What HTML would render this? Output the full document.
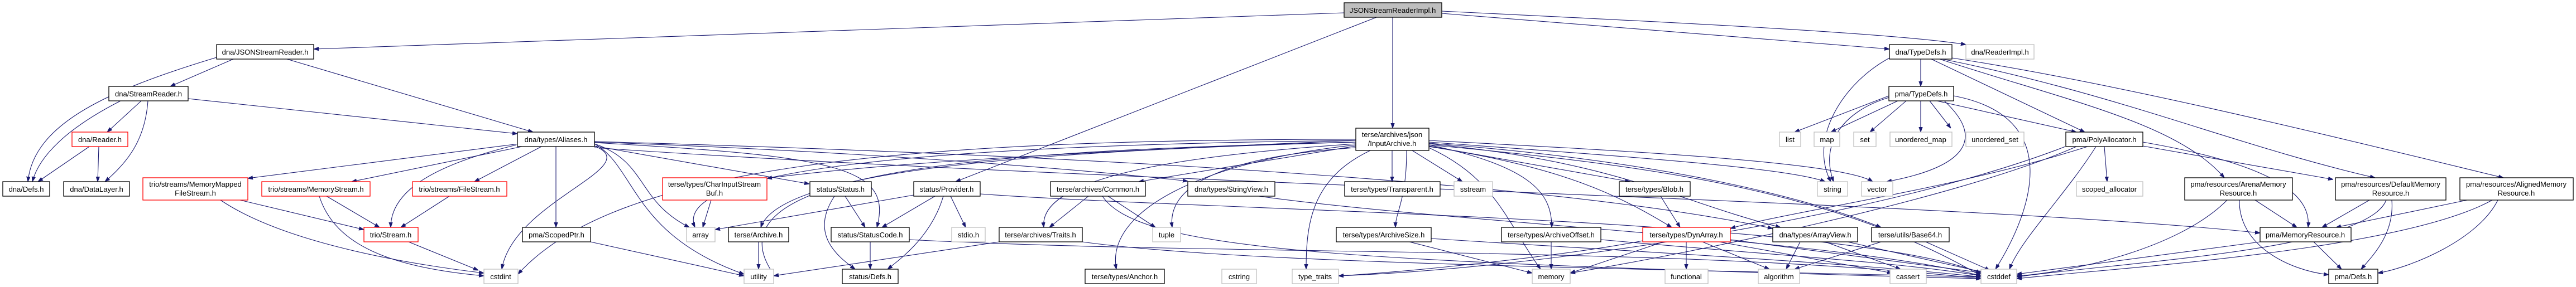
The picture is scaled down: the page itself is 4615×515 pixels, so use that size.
<!DOCTYPE html>
<html><head><meta charset="utf-8"><style>
html,body{margin:0;padding:0;background:#fff}
svg{display:block}
text{font-family:"Liberation Sans",sans-serif;font-size:13px;fill:#000;text-anchor:middle}
.b{fill:#fff;stroke:#000;stroke-width:1.3}
.g{fill:#fff;stroke:#bfbfbf;stroke-width:1.3}
.r{fill:#fff;stroke:#ff0000;stroke-width:1.3}
.e path{fill:none;stroke:#191970;stroke-width:1.1;marker-end:url(#a)}
</style></head><body>
<svg width="4615" height="515" viewBox="0 0 4615 515" xmlns="http://www.w3.org/2000/svg">
<defs><marker id="a" viewBox="0 0 10 10" refX="10" refY="5" markerWidth="9" markerHeight="9" markerUnits="userSpaceOnUse" orient="auto"><path d="M0,1.5L10,5L0,8.5z" fill="#191970" stroke="#191970"/></marker></defs>
<g class="e">
<path d="M2408,23 L562,88"/>
<path d="M2583,24 L3385,88"/>
<path d="M2583,20 C3000,40 3400,60 3522,80"/>
<path d="M2495,31 L2495,230"/>
<path d="M2466,31 L1712,326"/>
<path d="M388,103 C200,160 60,220 50,326"/>
<path d="M418,106 L305,155"/>
<path d="M514,106 L955,237"/>
<path d="M216,181 C120,230 70,280 58,326"/>
<path d="M253,181 L192,237"/>
<path d="M265,181 C260,250 230,290 188,326"/>
<path d="M337,177 L927,240"/>
<path d="M160,263 L68,326"/>
<path d="M177,263 L175,326"/>
<path d="M930,258 L444,320"/>
<path d="M940,262 L630,326"/>
<path d="M970,263 L850,326"/>
<path d="M925,260 C760,300 700,350 700,408"/>
<path d="M996,263 L996,408"/>
<path d="M1065,262 C1160,300 920,360 899,483"/>
<path d="M1065,262 L1450,330"/>
<path d="M1065,255 C1500,270 1900,300 2128,325"/>
<path d="M1065,256 C1500,280 1600,300 1571,408"/>
<path d="M1065,258 C1140,300 1130,420 1333,492"/>
<path d="M1065,258 C1160,290 1140,360 1235,408"/>
<path d="M1065,265 C2000,330 3500,360 4049,418"/>
<path d="M1065,254 C2000,280 2800,330 3176,410"/>
<path d="M430,359 L652,412"/>
<path d="M395,359 C500,430 700,470 867,490"/>
<path d="M585,352 L680,408"/>
<path d="M572,352 C600,440 700,480 867,495"/>
<path d="M805,352 L718,408"/>
<path d="M732,434 L857,485"/>
<path d="M1058,434 L1333,495"/>
<path d="M1274,359 L1259,408"/>
<path d="M1514,352 L1550,408"/>
<path d="M1495,352 C1450,420 1500,460 1532,483"/>
<path d="M1637,350 L1281,412"/>
<path d="M1675,352 L1580,408"/>
<path d="M1690,352 C1670,420 1620,460 1590,483"/>
<path d="M1703,352 L1730,408"/>
<path d="M1756,348 C2200,380 3300,390 3549,490"/>
<path d="M1950,352 L1880,408"/>
<path d="M1985,352 L2070,408"/>
<path d="M1975,352 C2040,450 2400,470 3549,500"/>
<path d="M2255,352 C2600,400 3300,430 3549,495"/>
<path d="M1359,434 L1359,483"/>
<path d="M1559,434 L1559,483"/>
<path d="M1629,430 C2200,460 3000,440 3549,500"/>
<path d="M1790,434 L1386,495"/>
<path d="M1939,434 C2200,470 2800,480 3549,497"/>
<path d="M2494,270 L2494,326"/>
<path d="M2530,270 L2620,326"/>
<path d="M2560,262 L2920,326"/>
<path d="M2560,255 C2900,280 3200,300 3270,326"/>
<path d="M2560,252 C2900,270 3300,290 3355,326"/>
<path d="M2455,270 C2350,320 2340,400 2340,483"/>
<path d="M2560,265 C2680,320 2700,400 2760,483"/>
<path d="M2520,270 C2520,360 2500,380 2500,408"/>
<path d="M2560,260 C2750,300 2780,350 2780,408"/>
<path d="M2560,263 C2800,300 2900,350 2995,408"/>
<path d="M2560,258 C2900,290 3000,360 3190,408"/>
<path d="M2560,257 C3000,290 3250,360 3370,408"/>
<path d="M2429,262 L2040,326"/>
<path d="M2429,258 C2100,280 1860,320 1870,408"/>
<path d="M2429,260 C2150,290 1980,380 2000,483"/>
<path d="M2429,255 C1800,270 1250,300 1386,492"/>
<path d="M2429,252 C1700,260 1200,300 1245,408"/>
<path d="M2429,252 C2000,270 1600,290 1374,320"/>
<path d="M2429,255 C1900,270 1400,300 1363,408"/>
<path d="M2429,250 C1600,250 1100,300 928,492"/>
<path d="M2560,260 C3000,300 3300,350 3549,495"/>
<path d="M2429,265 C2200,280 2090,330 2100,408"/>
<path d="M2975,352 L3010,408"/>
<path d="M2525,434 L2745,490"/>
<path d="M2564,428 C2900,450 3300,470 3549,497"/>
<path d="M2779,434 L2779,483"/>
<path d="M2868,430 C3200,460 3400,470 3549,495"/>
<path d="M2980,434 L2813,490"/>
<path d="M3021,434 L3021,483"/>
<path d="M3050,434 L3170,483"/>
<path d="M3080,434 L3390,490"/>
<path d="M3100,430 L3555,490"/>
<path d="M2943,432 C2800,460 2500,490 2398,495"/>
<path d="M3225,434 L3200,483"/>
<path d="M3270,434 L3405,483"/>
<path d="M3310,434 L3560,490"/>
<path d="M3370,434 L3215,483"/>
<path d="M3450,434 L3565,485"/>
<path d="M3441,106 L3441,155"/>
<path d="M3385,104 C3300,150 3240,250 3280,326"/>
<path d="M3460,106 L3735,237"/>
<path d="M3475,106 C3700,180 3900,220 3985,319"/>
<path d="M3480,106 C3800,170 4000,260 4255,319"/>
<path d="M3497,104 C3800,150 4200,250 4485,319"/>
<path d="M3384,172 L3215,237"/>
<path d="M3400,181 L3280,237"/>
<path d="M3415,181 L3350,237"/>
<path d="M3441,181 L3441,237"/>
<path d="M3457,181 L3495,230"/>
<path d="M3470,181 L3720,237"/>
<path d="M3480,178 C3560,250 3520,300 3380,326"/>
<path d="M3500,172 C3700,210 3640,380 3575,483"/>
<path d="M3384,175 C3300,200 3260,260 3285,326"/>
<path d="M3770,263 L3775,326"/>
<path d="M3839,255 C4100,300 4140,360 4135,408"/>
<path d="M3839,262 L4180,322"/>
<path d="M3755,263 C3700,350 3620,430 3600,483"/>
<path d="M3720,263 C3500,360 3000,460 2813,490"/>
<path d="M3700,263 C3400,380 2800,480 2398,495"/>
<path d="M3740,263 C3500,340 3200,380 3100,410"/>
<path d="M4040,359 L4115,408"/>
<path d="M3990,359 C3900,450 3700,490 3613,495"/>
<path d="M4012,359 C4010,440 4100,485 4172,493"/>
<path d="M4245,359 L4160,408"/>
<path d="M4275,359 C4240,450 3800,470 3613,497"/>
<path d="M4285,359 C4290,420 4250,460 4230,483"/>
<path d="M4420,359 L4185,408"/>
<path d="M4465,359 C4300,450 3800,480 3613,500"/>
<path d="M4475,359 C4440,430 4320,480 4260,490"/>
<path d="M4049,434 L3613,492"/>
<path d="M4145,434 L4195,483"/>
</g>
<g>
<rect x="2408" y="5" width="175" height="26" fill="#bfbfbf" stroke="#000" stroke-width="1.3"/><text x="2495" y="23">JSONStreamReaderImpl.h</text>
<rect class="b" x="388" y="80" width="174" height="26"/><text x="475" y="98">dna/JSONStreamReader.h</text>
<rect class="b" x="3385" y="80" width="112" height="26"/><text x="3441" y="98">dna/TypeDefs.h</text>
<rect class="g" x="3522" y="80" width="122" height="26"/><text x="3583" y="98">dna/ReaderImpl.h</text>
<rect class="b" x="195" y="155" width="142" height="26"/><text x="266" y="173">dna/StreamReader.h</text>
<rect class="b" x="3384" y="155" width="116" height="26"/><text x="3442" y="173">pma/TypeDefs.h</text>
<rect class="r" x="129" y="237" width="100" height="26"/><text x="179" y="255">dna/Reader.h</text>
<rect class="b" x="927" y="237" width="138" height="26"/><text x="996" y="255">dna/types/Aliases.h</text>
<rect class="b" x="2429" y="230" width="131" height="40"/><text x="2494" y="246">terse/archives/json</text><text x="2494" y="262">/InputArchive.h</text>
<rect class="g" x="3188" y="237" width="38" height="26"/><text x="3207" y="255">list</text>
<rect class="g" x="3250" y="237" width="46" height="26"/><text x="3273" y="255">map</text>
<rect class="g" x="3321" y="237" width="40" height="26"/><text x="3341" y="255">set</text>
<rect class="g" x="3386" y="237" width="111" height="26"/><text x="3441" y="255">unordered_map</text>
<rect class="g" x="3522" y="237" width="104" height="26"/><text x="3574" y="255">unordered_set</text>
<rect class="b" x="3701" y="237" width="138" height="26"/><text x="3770" y="255">pma/PolyAllocator.h</text>
<rect class="b" x="5" y="326" width="84" height="26"/><text x="47" y="344">dna/Defs.h</text>
<rect class="b" x="114" y="326" width="118" height="26"/><text x="173" y="344">dna/DataLayer.h</text>
<rect class="r" x="256" y="319" width="188" height="40"/><text x="350" y="335">trio/streams/MemoryMapped</text><text x="350" y="351">FileStream.h</text>
<rect class="r" x="469" y="326" width="194" height="26"/><text x="566" y="344">trio/streams/MemoryStream.h</text>
<rect class="r" x="739" y="326" width="169" height="26"/><text x="823" y="344">trio/streams/FileStream.h</text>
<rect class="r" x="1187" y="319" width="187" height="40"/><text x="1280" y="335">terse/types/CharInputStream</text><text x="1280" y="351">Buf.h</text>
<rect class="b" x="1451" y="326" width="110" height="26"/><text x="1506" y="344">status/Status.h</text>
<rect class="b" x="1637" y="326" width="119" height="26"/><text x="1696" y="344">status/Provider.h</text>
<rect class="b" x="1882" y="326" width="170" height="26"/><text x="1967" y="344">terse/archives/Common.h</text>
<rect class="b" x="2128" y="326" width="156" height="26"/><text x="2206" y="344">dna/types/StringView.h</text>
<rect class="b" x="2409" y="326" width="171" height="26"/><text x="2494" y="344">terse/types/Transparent.h</text>
<rect class="g" x="2605" y="326" width="69" height="26"/><text x="2639" y="344">sstream</text>
<rect class="b" x="2901" y="326" width="127" height="26"/><text x="2964" y="344">terse/types/Blob.h</text>
<rect class="g" x="3256" y="326" width="54" height="26"/><text x="3283" y="344">string</text>
<rect class="g" x="3335" y="326" width="56" height="26"/><text x="3363" y="344">vector</text>
<rect class="g" x="3720" y="326" width="119" height="26"/><text x="3779" y="344">scoped_allocator</text>
<rect class="b" x="3914" y="319" width="193" height="40"/><text x="4010" y="335">pma/resources/ArenaMemory</text><text x="4010" y="351">Resource.h</text>
<rect class="b" x="4184" y="319" width="198" height="40"/><text x="4283" y="335">pma/resources/DefaultMemory</text><text x="4283" y="351">Resource.h</text>
<rect class="b" x="4407" y="319" width="203" height="40"/><text x="4508" y="335">pma/resources/AlignedMemory</text><text x="4508" y="351">Resource.h</text>
<rect class="r" x="652" y="408" width="97" height="26"/><text x="700" y="426">trio/Stream.h</text>
<rect class="b" x="936" y="408" width="122" height="26"/><text x="997" y="426">pma/ScopedPtr.h</text>
<rect class="g" x="1230" y="408" width="51" height="26"/><text x="1255" y="426">array</text>
<rect class="b" x="1305" y="408" width="108" height="26"/><text x="1359" y="426">terse/Archive.h</text>
<rect class="b" x="1489" y="408" width="140" height="26"/><text x="1559" y="426">status/StatusCode.h</text>
<rect class="g" x="1705" y="408" width="60" height="26"/><text x="1735" y="426">stdio.h</text>
<rect class="b" x="1790" y="408" width="149" height="26"/><text x="1864" y="426">terse/archives/Traits.h</text>
<rect class="g" x="2065" y="408" width="50" height="26"/><text x="2090" y="426">tuple</text>
<rect class="b" x="2394" y="408" width="170" height="26"/><text x="2479" y="426">terse/types/ArchiveSize.h</text>
<rect class="b" x="2690" y="408" width="178" height="26"/><text x="2779" y="426">terse/types/ArchiveOffset.h</text>
<rect class="r" x="2943" y="408" width="157" height="26"/><text x="3021" y="426">terse/types/DynArray.h</text>
<rect class="b" x="3176" y="408" width="152" height="26"/><text x="3252" y="426">dna/types/ArrayView.h</text>
<rect class="b" x="3353" y="408" width="139" height="26"/><text x="3422" y="426">terse/utils/Base64.h</text>
<rect class="b" x="4049" y="408" width="163" height="26"/><text x="4130" y="426">pma/MemoryResource.h</text>
<rect class="g" x="867" y="483" width="61" height="26"/><text x="897" y="501">cstdint</text>
<rect class="g" x="1333" y="483" width="53" height="26"/><text x="1359" y="501">utility</text>
<rect class="b" x="1509" y="483" width="100" height="26"/><text x="1559" y="501">status/Defs.h</text>
<rect class="b" x="1944" y="483" width="142" height="26"/><text x="2015" y="501">terse/types/Anchor.h</text>
<rect class="g" x="2189" y="483" width="62" height="26"/><text x="2220" y="501">cstring</text>
<rect class="g" x="2315" y="483" width="83" height="26"/><text x="2356" y="501">type_traits</text>
<rect class="g" x="2745" y="483" width="68" height="26"/><text x="2779" y="501">memory</text>
<rect class="g" x="2983" y="483" width="77" height="26"/><text x="3021" y="501">functional</text>
<rect class="g" x="3150" y="483" width="74" height="26"/><text x="3187" y="501">algorithm</text>
<rect class="g" x="3386" y="483" width="65" height="26"/><text x="3418" y="501">cassert</text>
<rect class="g" x="3549" y="483" width="64" height="26"/><text x="3581" y="501">cstddef</text>
<rect class="b" x="4172" y="483" width="88" height="26"/><text x="4216" y="501">pma/Defs.h</text>
</g>
</svg>
</body></html>
